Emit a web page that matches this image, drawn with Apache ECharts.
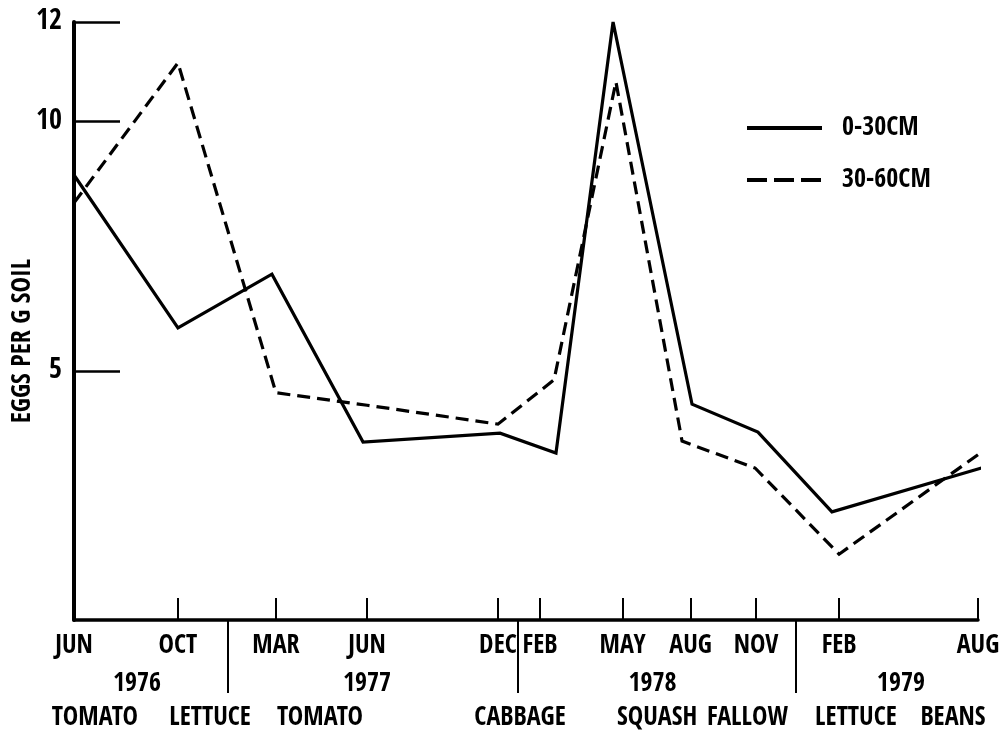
<!DOCTYPE html>
<html>
<head>
<meta charset="utf-8">
<script src="https://cdn.jsdelivr.net/npm/echarts@6/dist/echarts.min.js"></script>
<style>
  html, body { margin: 0; padding: 0; background: #fff; }
  #chart { width: 999px; height: 733px; }
</style>
</head>
<body>
<div id="chart"></div>
<script>
// ---- Data (x = months after June 1976) ----
const monthTickPos    = [0, 4.37, 8.49, 12.32, 17.82, 19.59, 23.06, 25.92, 28.67, 32.16, 38];
const monthTickLabels = ['JUN', 'OCT', 'MAR', 'JUN', 'DEC', 'FEB', 'MAY', 'AUG', 'NOV', 'FEB', 'AUG'];
const yearLabels      = ['1976', '1977', '1978', '1979'];
const yearPos         = [2.65, 12.32, 24.32, 34.76];
const yearBoundaryPos = [6.47, 18.66, 30.35];
const cropLabels      = ['TOMATO', 'LETTUCE', 'TOMATO', 'CABBAGE', 'SQUASH', 'FALLOW', 'LETTUCE', 'BEANS'];
const cropPos         = [0.88, 5.72, 10.34, 18.75, 24.51, 28.31, 32.87, 36.95];
const yTickValues     = [5, 10, 12];

const seriesNames   = ['0-30CM', '30-60CM'];
const shallowMonths = [0, 4.37, 8.32, 12.15, 17.91, 20.26, 22.66, 25.98, 28.75, 31.86, 38.29];
const shallowEggs   = [8.93, 5.86, 6.94, 3.57, 3.75, 3.35, 12.0, 4.33, 3.77, 2.17, 3.07];
const deepMonths    = [0, 4.37, 8.49, 12.32, 17.82, 20.18, 22.78, 25.56, 28.63, 32.16, 38.21];
const deepEggs      = [8.37, 11.18, 4.56, 4.31, 3.93, 4.82, 10.80, 3.59, 3.05, 1.32, 3.39];

// ---- Chart ----
const FONT = "'Open Sans Condensed', 'Roboto Condensed', 'DejaVu Sans Condensed', sans-serif";
const zip = (xs, ys) => xs.map((x, i) => [x, ys[i]]);
const lookup = (positions, labels) => (v) => {
  const i = positions.findIndex(p => Math.abs(p - v) < 1e-6);
  return i >= 0 ? labels[i] : '';
};
const labelStyle = (size) => ({
  color: '#000', fontFamily: FONT, fontWeight: 'bold', fontSize: size, lineHeight: size
});

const chart = echarts.init(document.getElementById('chart'), null, { renderer: 'canvas' });

const baseX = { type: 'value', min: 0, max: 38, position: 'bottom', gridIndex: 0,
  splitLine: { show: false } };

chart.setOption({
  animation: false,
  backgroundColor: '#fff',
  grid: { left: 74, right: 21, top: 22, bottom: 113, containLabel: false, outerBoundsMode: 'none' },
  legend: {
    orient: 'vertical', left: 745, top: 115, padding: 0,
    itemWidth: 75, itemHeight: 24, itemGap: 26,
    itemStyle: { color: 'rgba(0,0,0,0)', borderWidth: 0 },
    lineStyle: { width: 4, color: '#000' },
    textStyle: Object.assign(labelStyle(26), { padding: [0, 0, 0, 15] }),
    data: [
      { name: seriesNames[0] },
      { name: seriesNames[1], lineStyle: { type: [20, 7] } }
    ]
  },
  xAxis: [
    Object.assign({}, baseX, {
      axisLine: { show: true, lineStyle: { color: '#000', width: 3.5 } },
      axisTick: { show: true, inside: true, length: 22, customValues: monthTickPos.slice(1),
                  lineStyle: { color: '#000', width: 2 } },
      axisLabel: Object.assign(labelStyle(26), { margin: 13, customValues: monthTickPos,
                  formatter: lookup(monthTickPos, monthTickLabels) })
    }),
    Object.assign({}, baseX, {
      axisLine: { show: false },
      axisTick: { show: true, inside: false, length: 73, customValues: yearBoundaryPos,
                  lineStyle: { color: '#000', width: 2 } },
      axisLabel: { show: false }
    }),
    Object.assign({}, baseX, {
      axisLine: { show: false }, axisTick: { show: false },
      axisLabel: Object.assign(labelStyle(26), { margin: 51, customValues: yearPos,
                  formatter: lookup(yearPos, yearLabels) })
    }),
    Object.assign({}, baseX, {
      axisLine: { show: false }, axisTick: { show: false },
      axisLabel: Object.assign(labelStyle(26), { margin: 85, customValues: cropPos,
                  formatter: lookup(cropPos, cropLabels) })
    })
  ],
  yAxis: {
    type: 'value', min: 0, max: 12,
    axisLine: { show: true, lineStyle: { color: '#000', width: 4 } },
    axisTick: { show: true, inside: true, length: 46, customValues: yTickValues,
                lineStyle: { color: '#000', width: 2.5 } },
    axisLabel: Object.assign(labelStyle(28), { margin: 12, customValues: yTickValues }),
    splitLine: { show: false },
    name: 'EGGS PER G SOIL', nameLocation: 'middle', nameRotate: 90, nameGap: 38,
    nameMoveOverlap: false,
    nameTextStyle: Object.assign(labelStyle(26), { padding: [0, 40, 0, 0] })
  },
  series: [
    { name: seriesNames[0], type: 'line', data: zip(shallowMonths, shallowEggs),
      symbol: 'none', clip: false,
      lineStyle: { color: '#000', width: 3.2, join: 'miter', miterLimit: 4, cap: 'butt' } },
    { name: seriesNames[1], type: 'line', data: zip(deepMonths, deepEggs),
      symbol: 'none', clip: false,
      lineStyle: { color: '#000', width: 3.2, type: [13, 7], join: 'miter', miterLimit: 4, cap: 'butt' } }
  ]
});
</script>
</body>
</html>
